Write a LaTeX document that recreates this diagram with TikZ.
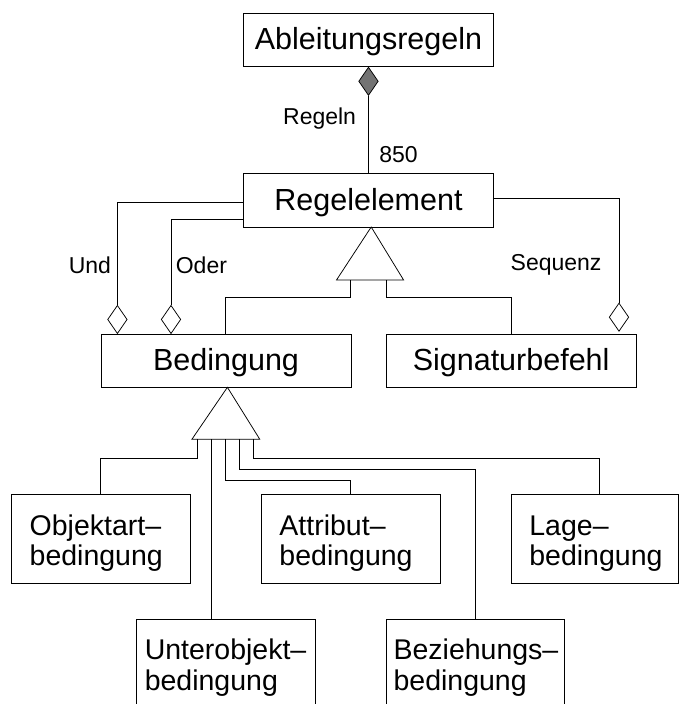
\documentclass[tikz,border=0pt]{standalone}
\usepackage{fontspec}
\setmainfont{Liberation Sans}
\usetikzlibrary{shapes.geometric}
\begin{document}
\begin{tikzpicture}[x=1pt,y=-1pt,line width=0.75pt,
  mainbox/.style={draw, anchor=north west, inner sep=0pt, align=center,
    font=\fontsize{30.5}{36}\selectfont, text height=20pt, text depth=1pt},
  subbox/.style={draw, anchor=north west, inner ysep=0pt, align=left,
    font=\fontsize{28.5}{30.7}\selectfont, minimum height=89pt},
  lbl/.style={inner sep=0pt, font=\fontsize{23}{26}\selectfont},
  agg/.style={draw, diamond, inner sep=0pt, minimum width=19.6pt, minimum height=28.3pt, fill=white},
  comp/.style={agg, fill=black!55},
  conn/.style={draw}
]
\useasboundingbox (0,0) rectangle (679,704);

% main boxes
\node[mainbox, minimum width=249.4pt, minimum height=53.3pt] (abl) at (243.4,12.7) {Ableitungsregeln};
\node[mainbox, minimum width=249.4pt, minimum height=53.7pt] (reg) at (243.4,173.3) {Regelelement};
\node[mainbox, minimum width=250.3pt, minimum height=53.3pt] (bed) at (100.5,334) {Bedingung};
\node[mainbox, minimum width=249.7pt, minimum height=53.3pt] (sig) at (385.9,334) {Signaturbefehl};

% sub boxes
\node[subbox, inner xsep=18pt, text width=142.4pt] (obj) at (11.3,494.3) {\mbox{\rule{0pt}{28.5pt}Objektart–}\\\mbox{bedingung}};
\node[subbox, inner xsep=18pt, text width=142.5pt] (att) at (261.1,494.3) {\mbox{\rule{0pt}{28.5pt}Attribut–}\\\mbox{bedingung}};
\node[subbox, inner xsep=18pt, text width=130.5pt] (lag) at (511,494.3) {\mbox{\rule{0pt}{28.5pt}Lage–}\\\mbox{bedingung}};
\node[subbox, inner xsep=8pt, text width=162.4pt] (unt) at (136.4,619) {\mbox{\rule{0pt}{28.5pt}Unterobjekt–}\\\mbox{bedingung}};
\node[subbox, inner xsep=7.3pt, text width=163.8pt] (bez) at (385.9,619) {\mbox{\rule{0pt}{28.5pt}Beziehungs–}\\\mbox{bedingung}};

% composition
\node[comp, anchor=north] (dc) at (abl.south) {};
\draw[conn] (dc.south) -- (reg.north);
\node[lbl] (lregeln) at (319.6,119) {Regeln};
\node[lbl] (l850) at (398.6,155) {850};

% aggregations
\node[agg, anchor=south] (dund) at (117.4,334) {};
\node[agg, anchor=south] (doder) at (171,334) {};
\node[agg, anchor=south] (dseq) at (619,331.7) {};
\coordinate (rund) at (243.4,202);
\coordinate (roder) at (243.4,219.3);
\coordinate (rseq) at (492.8,198.3);
\draw[conn] (rund) -| (dund.north);
\draw[conn] (roder) -| (doder.north);
\draw[conn] (rseq) -| (dseq.north);
\node[lbl] (lund) at (89.9,265) {Und};
\node[lbl] (loder) at (201.4,265) {Oder};
\node[lbl] (lseq) at (556.1,265) {Sequenz};

% generalization 1
\coordinate (t1a) at (371.2,227);
\coordinate (t1l) at (336.5,280);
\coordinate (t1r) at (403.6,280);
\draw[fill=white] (t1a) -- (t1l) -- (t1r) -- cycle;
\coordinate (t1b) at (350.8,280);
\coordinate (t1c) at (385.9,280);
\draw[conn] (t1b) -- (350.8,297.7) -| (bed.north -| 225.2,0);
\draw[conn] (t1c) -- (385.9,297.7) -| (sig.north -| 511,0);

% generalization 2
\coordinate (t2a) at (227.4,387.3);
\coordinate (t2l) at (191.9,439.3);
\coordinate (t2r) at (259.8,439.3);
\draw[fill=white] (t2a) -- (t2l) -- (t2r) -- cycle;
\coordinate (g1) at (197.5,439.3);
\coordinate (g2) at (211.3,439.3);
\coordinate (g3) at (225.6,439.3);
\coordinate (g4) at (239.5,439.3);
\coordinate (g5) at (253.8,439.3);
\draw[conn] (g1) -- (197.5,458.3) -| (obj.north -| 100.5,0);
\draw[conn] (g2) -- (unt.north -| 211.3,0);
\draw[conn] (g3) -- (225.6,480) -| (att.north -| 349.9,0);
\draw[conn] (g4) -- (239.5,469.3) -| (bez.north -| 475.5,0);
\draw[conn] (g5) -- (253.8,458.3) -| (lag.north -| 599.8,0);
\end{tikzpicture}
\end{document}
